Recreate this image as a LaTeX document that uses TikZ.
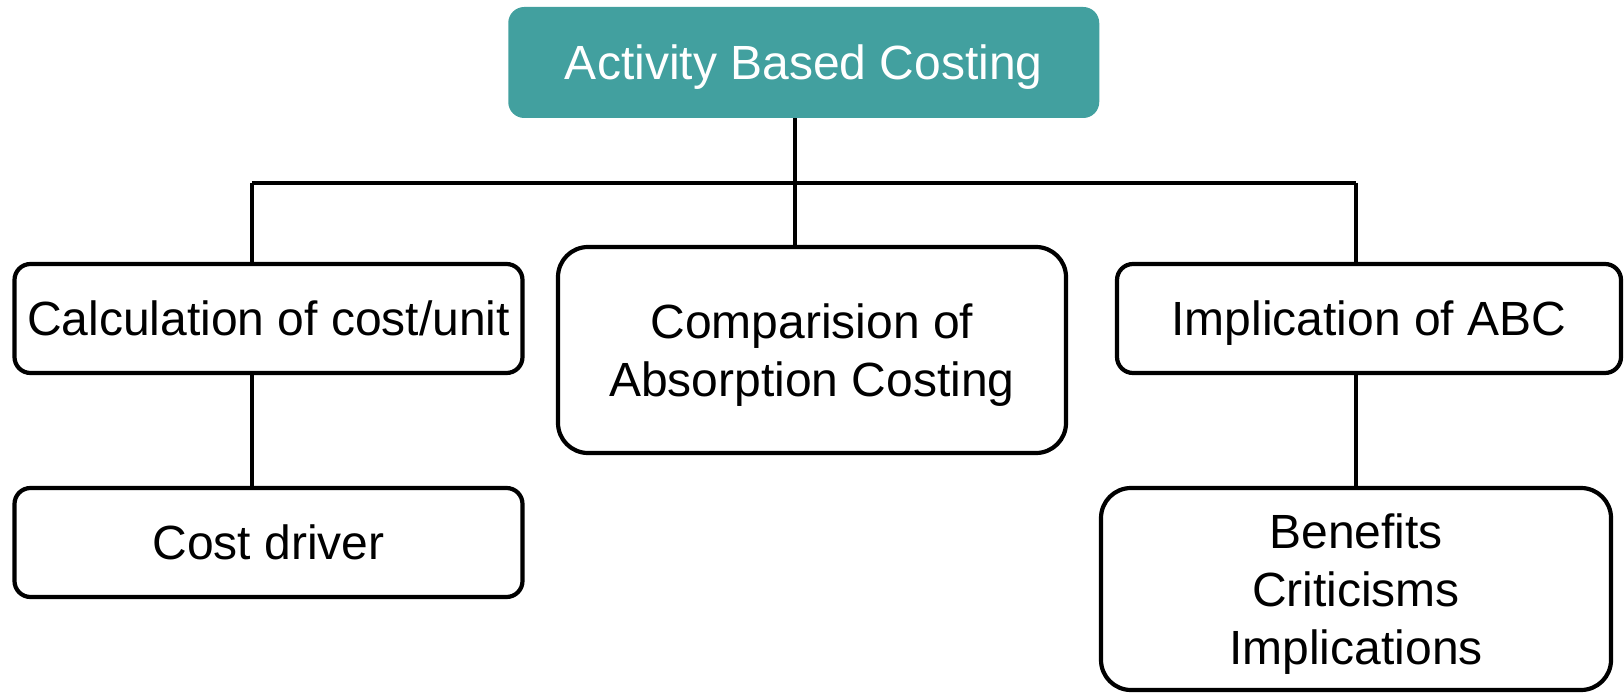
\documentclass[tikz,border=0pt]{standalone}
\usepackage{fontspec}
\setmainfont{Liberation Sans}
\definecolor{teal1}{RGB}{66,160,159}
\begin{document}
\begin{tikzpicture}[x=1pt,y=1pt,
  box/.style={draw=black,line width=4.2pt,fill=white,rounded corners=16pt,align=center,inner sep=0pt,
    font=\fontsize{48}{58}\selectfont},
  bigbox/.style={box,rounded corners=30pt,text depth=0pt},
  topbox/.style={fill=teal1,text=white,rounded corners=16pt,align=center,inner sep=0pt,
    font=\fontsize{48}{58}\selectfont},
  conn/.style={line width=3.3pt,black}]
\useasboundingbox (0,0) rectangle (1624,-695);
\node[topbox,text depth=0pt,minimum width=591pt,minimum height=111pt] (top) at (803.75,-62.5) {Activity Based Costing};
\node[box,minimum width=508pt,minimum height=109pt] (calc) at (268.5,-318.5) {Calculation of cost/unit};
\node[bigbox,minimum width=508pt,minimum height=206pt] (comp) at (812,-350) {Comparision of\\Absorption Costing};
\node[box,text depth=0pt,minimum width=504pt,minimum height=109pt] (impl) at (1369,-318.5) {Implication of ABC};
\node[box,minimum width=508pt,minimum height=109pt] (cost) at (268.5,-542.5) {Cost driver};
\node[bigbox,minimum width=510pt,minimum height=202pt] (bene) at (1356,-589) {Benefits\\Criticisms\\Implications};
\coordinate (bl) at (252,-183);
\coordinate (bm) at (795,-183);
\coordinate (br) at (1356,-183);
\draw[conn] (top.south -| bm) -- (bm);
\draw[conn] (bl) -- (br);
\draw[conn] (bl) -- (bl |- calc.north);
\draw[conn] (bm) -- (bm |- comp.north);
\draw[conn] (br) -- (br |- impl.north);
\draw[conn] (bl |- calc.south) -- (bl |- cost.north);
\draw[conn] (br |- impl.south) -- (br |- bene.north);
\end{tikzpicture}
\end{document}
